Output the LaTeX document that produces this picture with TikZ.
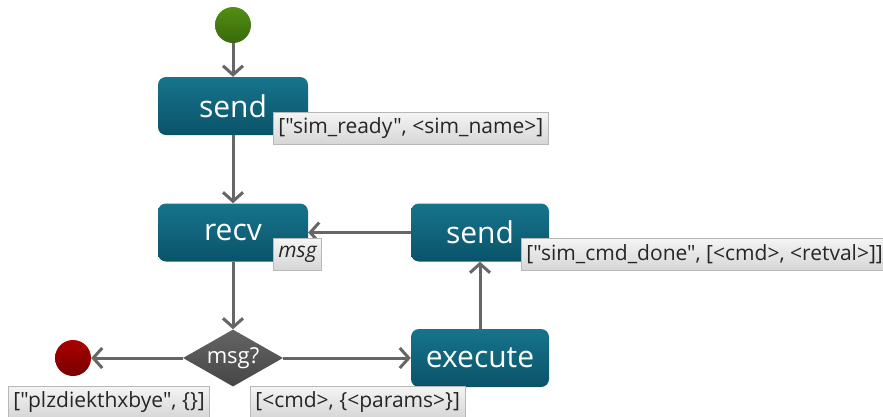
\documentclass[tikz,border=0pt]{standalone}
\usepackage{fontspec}
\setmainfont{Open Sans}[Ligatures=TeXOff]
\usetikzlibrary{shapes.geometric,arrows.meta}
\definecolor{tealtop}{HTML}{16748C}
\definecolor{tealbot}{HTML}{0A5369}
\definecolor{arrowgray}{HTML}{666666}
\definecolor{labtop}{HTML}{F4F4F4}
\definecolor{labbot}{HTML}{D6D6D6}
\definecolor{labborder}{HTML}{B8B8B8}
\newcommand\dq{\symbol{34}}
\tikzset{
  actbox/.style={rectangle, rounded corners=8pt, top color=tealtop, bottom color=tealbot, draw=none,
    minimum width=150pt, minimum height=58pt, inner sep=0pt, text=white, font=\fontsize{30}{34}\selectfont},
  notelab/.style={rectangle, top color=labtop, bottom color=labbot, draw=labborder, line width=0.8pt,
    minimum height=32pt, inner xsep=5pt, inner ysep=0pt, anchor=north west, text=black!85, font=\fontsize{21}{25}\selectfont},
  flow/.style={draw=arrowgray, line width=3pt, -{Straight Barb[length=9pt,width=20pt,line width=3pt]}},
  dot/.style={circle, minimum size=36pt, inner sep=0pt, draw=none},
}
\begin{document}
\begin{tikzpicture}[x=1pt,y=1pt]
\useasboundingbox (0,0) rectangle (883,-416);
\node[dot, top color={rgb,255:red,82;green,142;blue,20}, bottom color={rgb,255:red,58;green,105;blue,12}] (start) at (233,-25) {};
\node[actbox, minimum width=150pt] (send1) at (233,-106) {send};
\node[actbox, minimum width=150pt] (recv) at (233,-232.5) {recv};
\node[actbox, minimum width=138pt] (send2) at (480,-232.5) {send};
\node[actbox, minimum width=138pt] (exec) at (480,-358) {execute};
\node[diamond, aspect=1.75, minimum width=100pt, minimum height=57pt, inner sep=0pt,
  top color={rgb,255:red,100;green,100;blue,100}, bottom color={rgb,255:red,70;green,70;blue,70},
  text=white, font=\fontsize{22}{26}\selectfont] (dec) at (233,-358) {msg?};
\node[dot, top color={rgb,255:red,170;green,0;blue,0}, bottom color={rgb,255:red,120;green,0;blue,0}] (end) at (73,-358) {};

\draw[flow] (start) -- (send1);
\draw[flow] (send1) -- (recv);
\draw[flow] (send2) -- (recv);
\draw[flow] (dec) -- (end);
\draw[flow] (dec) -- (exec);
\draw[flow] (exec) -- (send2);
\draw[flow] (recv.south) -- (dec.north);

\node[notelab] (l1) at (273,-112) {[\dq sim\_ready\dq, <sim\_name>]};
\node[notelab] (l2) at (273,-238) {\itshape msg};
\node[notelab] (l3) at (521,-238) {[\dq sim\_cmd\_done\dq, [<cmd>, <retval>]]};
\node[notelab] (l4) at (8,-386) {[\dq plzdiekthxbye\dq, \{\}]};
\node[notelab] (l5) at (250,-386) {[<cmd>, \{<params>\}]};
\end{tikzpicture}
\end{document}
